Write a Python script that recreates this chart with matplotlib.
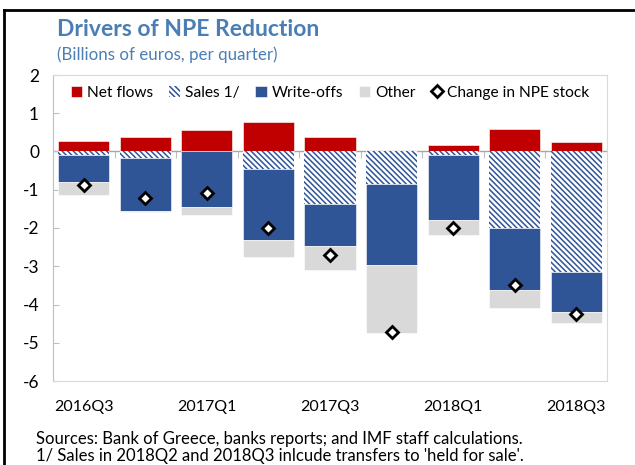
import matplotlib.pyplot as plt
import numpy as np

plt.rcParams['font.family'] = ['Lato', 'DejaVu Sans']
plt.rcParams['axes.unicode_minus'] = False
plt.rcParams['hatch.linewidth'] = 1.1

quarters = ["2016Q3", "2016Q4", "2017Q1", "2017Q2", "2017Q3",
            "2017Q4", "2018Q1", "2018Q2", "2018Q3"]
net_flows = [0.28, 0.39, 0.56, 0.76, 0.39, 0.02, 0.18, 0.59, 0.24]
sales = [-0.08, -0.17, 0.0, -0.46, -1.38, -0.85, -0.08, -2.00, -3.16]
write_offs = [-0.71, -1.39, -1.44, -1.86, -1.10, -2.12, -1.72, -1.63, -1.04]
other = [-0.36, -0.03, -0.21, -0.44, -0.62, -1.78, -0.39, -0.45, -0.29]
change_npe = [-0.87, -1.21, -1.08, -1.99, -2.71, -4.73, -2.00, -3.49, -4.25]
shown_labels = ["2016Q3", "2017Q1", "2017Q3", "2018Q1", "2018Q3"]

RED = "#c00000"
BLUE = "#2f5597"
GREY = "#d9d9d9"
TITLE = "#4a7eb5"

fig = plt.figure(figsize=(6.35, 4.65), dpi=100)
ax = fig.add_axes([53 / 635, 1 - 381 / 465, 554 / 635, 306 / 465])

x = np.arange(len(quarters))
w = 0.83
s = np.array(sales)
wo = np.array(write_offs)

h1 = ax.bar(x, net_flows, w, color=RED, edgecolor="white", linewidth=0.4, label="Net flows", zorder=2)
h2 = ax.bar(x, sales, w, facecolor="white", edgecolor=BLUE, hatch="\\\\\\\\\\\\", linewidth=0,
            label="Sales 1/", zorder=2)
h3 = ax.bar(x, write_offs, w, bottom=s, color=BLUE, edgecolor="white", linewidth=0.4,
            label="Write-offs", zorder=2)
h4 = ax.bar(x, other, w, bottom=s + wo, color=GREY, edgecolor="white", linewidth=0.4,
            label="Other", zorder=2)
h5, = ax.plot(x, change_npe, linestyle="none", marker="D", markersize=6.5,
              markerfacecolor="white", markeredgecolor="black", markeredgewidth=2,
              label="Change in NPE stock", zorder=3)

ax.axhline(0, color="#a6a6a6", linewidth=1, zorder=1)

ax.set_xlim(-0.5, len(quarters) - 0.5)
ax.set_ylim(-6, 2)
ax.set_yticks(range(-6, 3))
ax.set_yticklabels([str(v) for v in range(-6, 3)])
ax.tick_params(axis="y", direction="in", length=4, color="#bfbfbf", labelsize=12.5, pad=10)

ax.set_xticks([quarters.index(q) for q in shown_labels])
ax.set_xticklabels(shown_labels)
ax.tick_params(axis="x", length=0, labelsize=11.5, pad=14)

# small ticks on the zero line between categories
sec = ax.secondary_xaxis(6 / 8)
sec.set_xticks(np.arange(0.5, len(quarters) - 0.5, 1))
sec.set_xticklabels([])
sec.tick_params(direction="in", length=5, color="#bfbfbf")
sec.spines["bottom"].set_visible(False)
sec.spines["top"].set_visible(False)

for side in ["top", "right", "bottom"]:
    ax.spines[side].set_color("#d9d9d9")
ax.spines["left"].set_color("#bfbfbf")

ax.legend([h1, h2, h3, h4, h5],
          ["Net flows", "Sales 1/", "Write-offs", "Other", "Change in NPE stock"],
          loc="upper center", ncol=5, frameon=False, fontsize=11.2,
          handlelength=0.75, handleheight=0.75, handletextpad=0.3,
          columnspacing=1.0, borderaxespad=0.3)

fig.text(57 / 635, 1 - 30 / 465, "Drivers of NPE Reduction", color=TITLE,
         fontsize=16.5, fontweight="bold", va="center")
fig.text(57 / 635, 1 - 55 / 465, "(Billions of euros, per quarter)", color=TITLE,
         fontsize=12.2, va="center")
fig.text(36 / 635, 1 - 439 / 465,
         "Sources: Bank of Greece, banks reports; and IMF staff calculations.",
         fontsize=12, va="center")
fig.text(36 / 635, 1 - 456 / 465,
         "1/ Sales in 2018Q2 and 2018Q3 inlcude transfers to 'held for sale'.",
         fontsize=12, va="center")

# outer frame lines (left and top)
fig.add_artist(plt.Line2D([4 / 635, 4 / 635], [0, 1 - 10 / 465], color="black", linewidth=2))
fig.add_artist(plt.Line2D([4 / 635, 1], [1 - 10 / 465, 1 - 10 / 465], color="black", linewidth=2))

fig.savefig("out.png", dpi=100)
